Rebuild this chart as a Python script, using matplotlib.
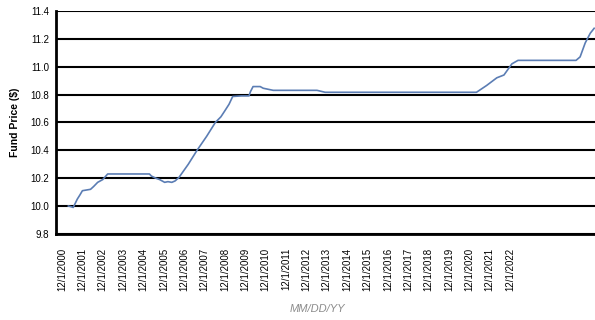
"""Fund price history line chart, saved to out.png."""

import matplotlib

matplotlib.use("Agg")
import matplotlib.pyplot as plt  # noqa: E402

# x positions in years after 12/1/2000, fund price in dollars
years_since = [0.31, 0.45, 0.55, 0.65, 0.75, 0.88, 1.0, 1.2, 1.40, 1.55, 1.75,
               2.0, 2.24, 3.0, 4.29, 4.39, 4.6, 4.79, 5.04, 5.2, 5.39, 5.55,
               5.74, 6.2, 6.63, 7.1, 7.53, 7.8, 7.98, 8.2, 8.38, 8.8, 9.18,
               9.25, 9.38, 9.73, 9.88, 10.37, 11.5, 12.52, 12.92, 15.0, 18.0,
               20.35, 20.85, 21.35, 21.70, 22.09, 22.39, 24.0, 25.24, 25.44,
               25.69, 25.94, 26.13]
price = [10.0, 9.995, 9.99, 10.02, 10.05, 10.08, 10.11, 10.115, 10.12, 10.14,
         10.17, 10.19, 10.23, 10.23, 10.23, 10.215, 10.2, 10.19, 10.17, 10.175,
         10.17, 10.18, 10.205, 10.3, 10.40, 10.50, 10.60, 10.64, 10.68, 10.73,
         10.786, 10.79, 10.79, 10.82, 10.857, 10.857, 10.845, 10.83, 10.83,
         10.83, 10.816, 10.816, 10.816, 10.816, 10.865, 10.92, 10.94, 11.02,
         11.045, 11.045, 11.045, 11.07, 11.17, 11.24, 11.275]

tick_labels = [f"12/1/{y}" for y in range(2000, 2023)]
y_ticks = [9.8, 10.0, 10.2, 10.4, 10.6, 10.8, 11.0, 11.2, 11.4]


def main() -> None:
    plt.rcParams["font.family"] = ["Liberation Sans", "DejaVu Sans"]
    fig = plt.figure(figsize=(5.95, 3.2), dpi=100)
    ax = fig.add_axes([0.094, 0.269, 0.92, 0.697])

    ax.plot(years_since, price, color="#5b7db4", lw=1.2, zorder=3)

    ax.set_xlim(-0.3, 26.58)
    ax.set_ylim(9.8, 11.4)
    ax.set_yticks(y_ticks)
    ax.set_yticklabels([f"{v:.1f}" for v in y_ticks], fontsize=7)
    ax.set_xticks(range(len(tick_labels)))
    ax.set_xticklabels(tick_labels, rotation=90, fontsize=7)
    ax.tick_params(length=0, pad=5)
    ax.tick_params(axis="x", pad=10)

    ax.yaxis.grid(True, color="black", lw=1.5)
    ax.set_axisbelow(True)
    for side in ("top", "right"):
        ax.spines[side].set_visible(False)
    for side in ("left", "bottom"):
        ax.spines[side].set_linewidth(2)

    ax.set_ylabel("Fund Price ($)", fontsize=7.5, fontweight="bold", labelpad=7)
    fig.text(317 / 595, 1 - 309 / 320, "MM/DD/YY", fontsize=8, style="italic",
             color="#8c8c8c", ha="center", va="center")

    fig.savefig("out.png", dpi=100)


if __name__ == "__main__":
    main()
